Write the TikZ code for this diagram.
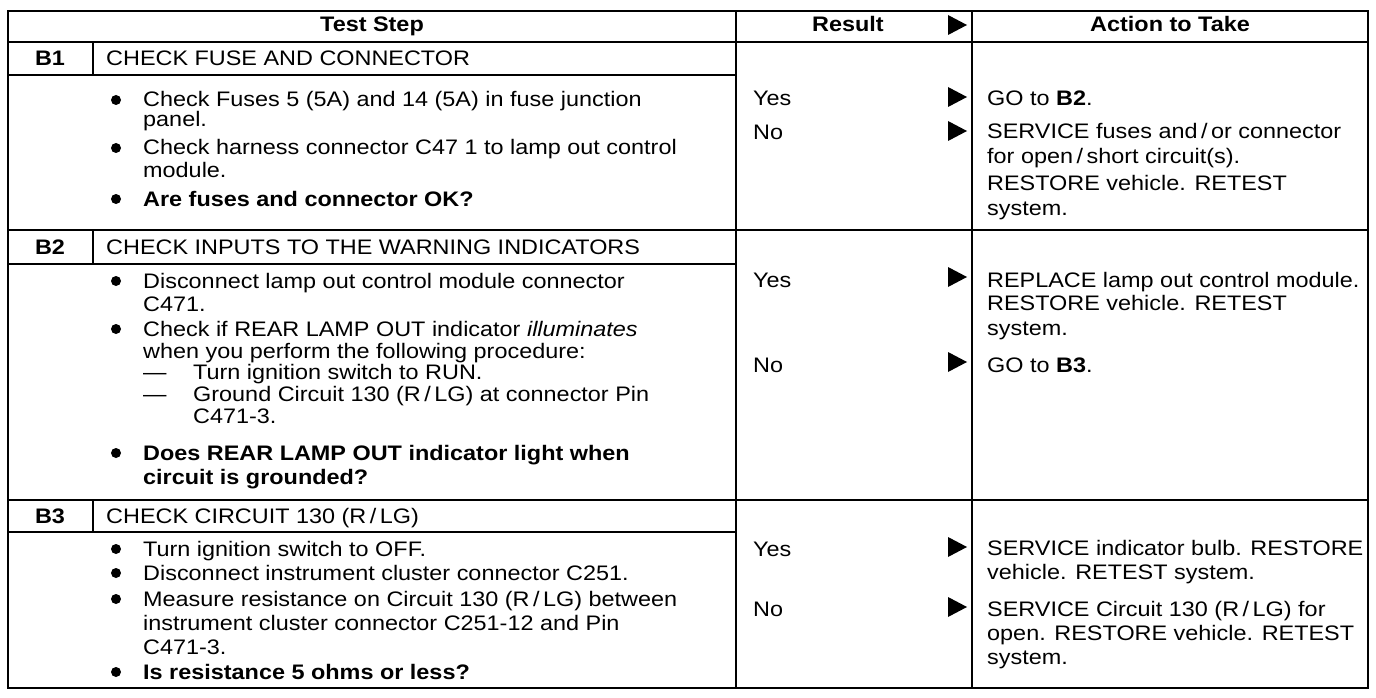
\documentclass[tikz,border=0pt]{standalone}
\usepackage{fontspec}
\setmainfont{Liberation Sans}[FakeStretch=1.115]
\usepackage{tikz}

\begin{document}
\begin{tikzpicture}[x=1pt,y=-1pt,
	txt/.style={anchor=base west,inner sep=0pt,font=\fontsize{21}{25}\selectfont},
	hdr/.style={anchor=base,inner sep=0pt,font=\fontsize{21}{25}\selectfont\bfseries},
	rule/.style={line width=1.6pt}]
			\useasboundingbox[fill=white] (0,0) rectangle (1376,698);
			
			% frame and rules
			\draw[rule] (8,11) rectangle (1368,688);
			\foreach \y in {42,230,500}
			\draw[rule] (8,\y) -- (1368,\y);
			\foreach \y in {75,264,532}
			\draw[rule] (8,\y) -- (736,\y);
			\draw[rule] (736,11) -- (736,688);
			\draw[rule] (972,11) -- (972,688);
			\foreach \a/\b in {42/75,230/264,500/532}
			\draw[rule] (93,\a) -- (93,\b);
			
			% column heads
			\node[hdr] (test) at (372,32) {Test Step};
			\node[hdr] (result) at (848,32) {Result};
			\node[hdr] (action) at (1170,32) {Action to Take};
			
			% step titles
			\foreach \y/\s [count=\i] in {66/B1,254/B2,523/B3}
			\node[hdr] (step\i) at (50,\y) {\s};
			\node[txt] (title1) at (106,66) {CHECK FUSE AND CONNECTOR};
			\node[txt] (title2) at (106,254) {CHECK INPUTS TO THE WARNING INDICATORS};
			\node[txt] (title3) at (106,523) {CHECK CIRCUIT 130 (R\,/\,LG)};
			
			% test steps
			\foreach \y/\t [count=\i] in {
				107/{Check Fuses 5 (5A) and 14 (5A) in fuse junction},
				127/{panel.},
				155/{Check harness connector C47 1 to lamp out control},
				177/{module.},
				206/{\bfseries Are fuses and connector OK?},
				288/{Disconnect lamp out control module connector},
				311/{C471.},
				336/{Check if REAR LAMP OUT indicator \textit{illuminates}},
				358/{when you perform the following procedure:},
				379/{\makebox[50pt][l]{---}Turn ignition switch to RUN.},
				401/{\makebox[50pt][l]{---}Ground Circuit 130 (R\,/\,LG) at connector Pin},
				423/{\hspace*{50pt}C471-3.},
				460/{\bfseries Does REAR LAMP OUT indicator light when},
				484/{\bfseries circuit is grounded?},
				556/{Turn ignition switch to OFF.},
				580/{Disconnect instrument cluster connector C251.},
				606/{Measure resistance on Circuit 130 (R\,/\,LG) between},
				630/{instrument cluster connector C251-12 and Pin},
				654/{C471-3.},
				679/{\bfseries Is resistance 5 ohms or less?}}
			\node[txt] (line\i) at (143,\y) {\t};
			\foreach \y in {100,148,199,281,329,453,549,573,599,672}
			\fill (116,\y) circle (5);
			
			% results
			\foreach \y/\r [count=\i] in {106/Yes,140/No,287/Yes,372/No,556/Yes,616/No}
			\node[txt] (res\i) at (753,\y) {\r};
			\foreach \y in {25,97,131,277,362,547,607}
			\fill (948,\y-10) -- (967,\y) -- (948,\y+10) -- cycle;
			
			% actions
			\foreach \y/\t [count=\i] in {
				106/{GO to \textbf{B2}.},
				139/{SERVICE fuses and\,/\,or connector},
				164/{for open\,/\,short circuit(s).},
				190/{RESTORE vehicle. RETEST},
				215/{system.},
				287/{REPLACE lamp out control module.},
				310/{RESTORE vehicle. RETEST},
				335/{system.},
				372/{GO to \textbf{B3}.},
				555/{SERVICE indicator bulb. RESTORE},
				579/{vehicle. RETEST system.},
				616/{SERVICE Circuit 130 (R\,/\,LG) for},
				640/{open. RESTORE vehicle. RETEST},
				664/{system.}}
			\node[txt] (act\i) at (987,\y) {\t};
			\end{tikzpicture}
\end{document}
